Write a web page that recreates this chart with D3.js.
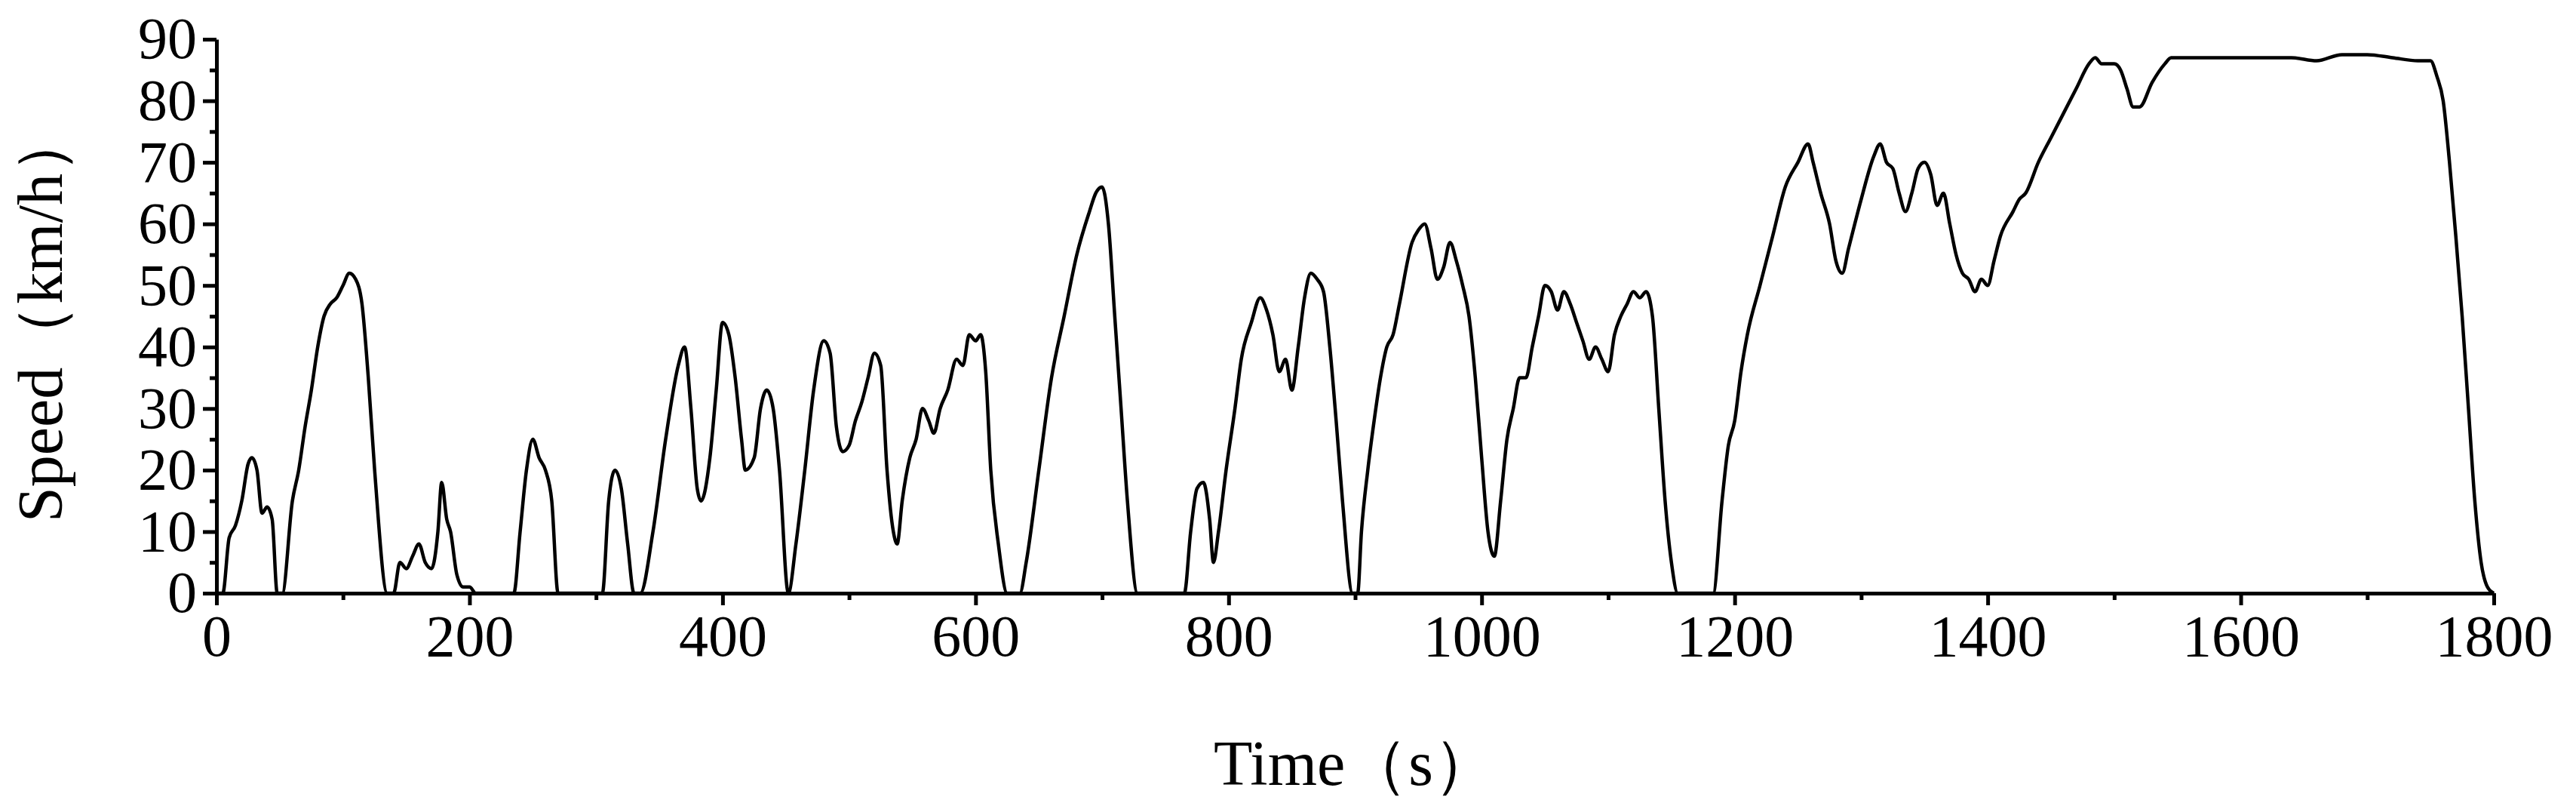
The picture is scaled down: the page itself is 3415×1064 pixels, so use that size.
<!DOCTYPE html>
<html><head><meta charset="utf-8">
<script src="https://cdn.jsdelivr.net/npm/d3@7"></script>
<style>body{margin:0;background:#fff}</style></head>
<body><svg id="c" width="3415" height="1064"></svg>
<script>
const times = [0,5,10,15,20,25,28,32,36,40,44,48,52,60,65,70,75,80,85,90,95,100,105,110,115,120,125,135,140,145,150,155,160,165,170,175,178,182,185,190,195,200,205,235,240,245,250,255,260,265,270,305,310,315,320,325,330,335,345,355,365,370,375,380,383,390,395,400,405,410,415,418,425,430,435,440,445,452,458,465,472,480,485,490,495,500,505,510,515,520,525,530,535,538,542,548,553,558,563,567,572,578,585,590,595,600,604,608,612,618,625,635,640,650,660,670,680,690,695,700,705,710,715,720,728,765,770,775,780,785,788,792,798,805,810,818,825,830,835,840,845,850,855,860,865,870,875,880,885,890,898,902,905,910,915,920,925,930,935,945,950,955,960,965,970,975,980,985,990,995,1000,1005,1010,1015,1020,1025,1030,1035,1040,1045,1050,1055,1060,1065,1070,1075,1080,1085,1090,1095,1100,1105,1110,1115,1120,1125,1130,1135,1140,1145,1150,1155,1183,1190,1195,1200,1205,1210,1220,1230,1240,1250,1258,1262,1268,1275,1280,1285,1290,1300,1310,1315,1320,1325,1330,1335,1340,1345,1350,1355,1360,1365,1370,1375,1380,1385,1390,1395,1400,1405,1410,1420,1425,1430,1440,1450,1460,1470,1480,1485,1490,1500,1505,1510,1515,1520,1530,1540,1545,1560,1600,1640,1660,1680,1700,1720,1740,1750,1755,1760,1765,1770,1775,1780,1785,1790,1795,1800];
const speeds = [0,0,9,11,15,21,22,20,13,14,12,0,0,15,20,27,33,40,45,47,48,50,52,51,47,35,20,0,0,5,4,6,8,5,4,10,18,12,10,3,1,1,0,0,10,20,25,22,20,15,0,0,15,20,17,8,0,0,10,25,37,40,30,17,15,22,33,44,42,35,25,20,22,30,33,30,20,0,8,20,33,41,39,27,23,24,28,31,35,39,37,20,10,8,15,22,25,30,28,26,30,33,38,37,42,41,42,36,20,8,0,0,5,20,35,45,55,62,65,66,60,45,30,15,0,0,10,17,18,12,5,10,20,30,38,44,48,46,42,36,38,33,40,48,52,51,49,40,28,15,0,0,10,20,28,35,40,42,47,57,59,60,56,51,53,57,54,50,45,35,22,10,6,15,25,30,35,35,40,45,50,49,46,49,47,44,41,38,40,38,36,42,45,47,49,48,49,45,30,15,5,0,0,15,24,28,36,42,50,58,66,70,73,70,65,60,54,52,56,64,71,73,70,69,65,62,65,69,70,68,63,65,60,55,52,51,49,51,50,54,58,62,64,65,70,74,78,82,86,87,86,86,85,82,79,79,83,86,87,87,87,87,86.5,87.5,87.5,87,86.5,86.5,84,80,70,58,45,30,15,5,1,0];
const xTicks = [0,200,400,600,800,1000,1200,1400,1600,1800];
const yTicks = [0,10,20,30,40,50,60,70,80,90];

const svg = d3.select("#c");
const x = d3.scaleLinear().domain([0,1800]).range([287,3306]);
const y = d3.scaleLinear().domain([0,90]).range([786,52]);
const font = "'Liberation Serif','Times New Roman',serif";

const line = d3.line().x((d,i)=>x(times[i])).y(d=>y(d)).curve(d3.curveMonotoneX);
svg.append("path").attr("d", line(speeds)).attr("fill","none").attr("stroke","#000").attr("stroke-width",4.5).attr("stroke-linejoin","round");

svg.append("g").attr("transform","translate(0,786)")
  .call(d3.axisBottom(x).tickValues(xTicks).tickSize(16).tickSizeOuter(0).tickPadding(12).tickFormat(d3.format("d")));
svg.append("g").attr("transform","translate(0,786)")
  .call(d3.axisBottom(x).tickValues(d3.range(100,1800,200)).tickSize(9).tickFormat("").tickSizeOuter(0))
  .call(g=>g.select(".domain").remove());
svg.append("g").attr("transform","translate(287,0)")
  .call(d3.axisLeft(y).tickValues(yTicks).tickSize(18).tickSizeOuter(0).tickPadding(8));
svg.append("g").attr("transform","translate(287,0)")
  .call(d3.axisLeft(y).tickValues(d3.range(5,90,10)).tickSize(9).tickFormat("").tickSizeOuter(0))
  .call(g=>g.select(".domain").remove());

svg.selectAll(".domain").attr("stroke-width",5).attr("stroke","#000");
svg.selectAll(".tick line").attr("stroke-width",5).attr("stroke","#000");
svg.selectAll(".tick text").attr("font-family",font).attr("font-size",78).attr("fill","#000");

svg.append("text").attr("x",(287+3306)/2).attr("y",1040).attr("text-anchor","middle")
  .attr("font-family",font).attr("font-size",84).text("Time（s）");
svg.append("text").attr("transform","translate(82,419) rotate(-90)").attr("text-anchor","middle")
  .attr("font-family",font).attr("font-size",84).text("Speed（km/h）");
</script></body></html>
